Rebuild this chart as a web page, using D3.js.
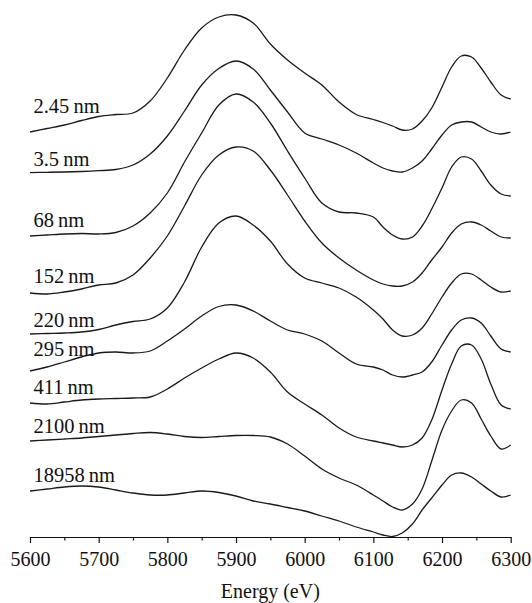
<!DOCTYPE html>
<html>
<head>
<meta charset="utf-8">
<script src="https://d3js.org/d3.v7.min.js"></script>
<style>
  body { margin: 0; background: #fff; }
  text { font-family: "Liberation Serif", "Times New Roman", serif; fill: #111; }
</style>
</head>
<body>
<div id="chart"></div>
<script>

// energy grid (eV), shared by all spectra
var energies = [5600, 5625, 5650, 5675, 5700, 5725, 5750, 5775, 5800, 5825, 5850, 5875, 5900, 5925, 5950,
  5975, 6000, 6025, 6050, 6075, 6100, 6114, 6128, 6142, 6157, 6171, 6185, 6200, 6214, 6228, 6243, 6257,
  6271, 6286, 6300];

// spectra, stacked with an offset (arbitrary units)
var s2_45 = [4.05, 4.085, 4.12, 4.165, 4.205, 4.225, 4.24, 4.36, 4.59, 4.87, 5.09, 5.20, 5.22, 5.14, 4.93,
  4.77, 4.64, 4.52, 4.35, 4.225, 4.175, 4.145, 4.11, 4.07, 4.08, 4.16, 4.29, 4.50, 4.70, 4.81, 4.80, 4.69,
  4.55, 4.42, 4.38];
var s3_5 = [3.643, 3.647, 3.65, 3.655, 3.663, 3.675, 3.72, 3.83, 4.01, 4.26, 4.52, 4.685, 4.76, 4.68, 4.47,
  4.25, 4.04, 3.98, 3.92, 3.84, 3.74, 3.69, 3.66, 3.65, 3.69, 3.76, 3.88, 4.02, 4.12, 4.15, 4.15, 4.10,
  4.05, 4.03, 4.05];
var s68 = [3.01, 3.02, 3.03, 3.035, 3.03, 3.045, 3.11, 3.24, 3.44, 3.75, 4.04, 4.32, 4.43, 4.35, 4.14,
  3.86, 3.59, 3.34, 3.25, 3.24, 3.20, 3.10, 3.02, 2.98, 3.00, 3.11, 3.28, 3.49, 3.70, 3.80, 3.78, 3.66,
  3.52, 3.43, 3.41];
var s152 = [2.44, 2.43, 2.45, 2.48, 2.52, 2.54, 2.62, 2.79, 3.01, 3.31, 3.62, 3.82, 3.90, 3.86, 3.67,
  3.42, 3.16, 2.94, 2.79, 2.67, 2.57, 2.53, 2.51, 2.51, 2.55, 2.64, 2.77, 2.90, 3.04, 3.13, 3.15, 3.12,
  3.06, 3.00, 2.99];
var s220 = [2.03, 2.035, 2.04, 2.05, 2.075, 2.12, 2.155, 2.18, 2.29, 2.55, 2.90, 3.14, 3.21, 3.12, 2.96,
  2.73, 2.59, 2.54, 2.49, 2.40, 2.27, 2.18, 2.07, 2.01, 2.02, 2.09, 2.23, 2.40, 2.54, 2.63, 2.63, 2.57,
  2.50, 2.45, 2.46];
var s295 = [1.66, 1.70, 1.75, 1.80, 1.84, 1.85, 1.84, 1.86, 1.96, 2.08, 2.21, 2.305, 2.32, 2.26, 2.16,
  2.07, 2.03, 1.96, 1.84, 1.73, 1.70, 1.67, 1.62, 1.60, 1.62, 1.65, 1.75, 1.92, 2.07, 2.17, 2.19, 2.14,
  2.01, 1.88, 1.85];
var s411 = [1.34, 1.33, 1.35, 1.37, 1.38, 1.385, 1.39, 1.40, 1.48, 1.59, 1.69, 1.78, 1.84, 1.79, 1.65,
  1.45, 1.33, 1.22, 1.09, 1.00, 0.96, 0.94, 0.92, 0.90, 0.92, 0.99, 1.17, 1.47, 1.73, 1.91, 1.92, 1.78,
  1.53, 1.32, 1.28];
var s2100 = [0.96, 0.97, 0.98, 0.99, 1.005, 1.02, 1.035, 1.045, 1.03, 1.005, 0.995, 1.005, 1.015, 1.015, 1.00,
  0.93, 0.81, 0.68, 0.59, 0.52, 0.42, 0.36, 0.30, 0.27, 0.33, 0.48, 0.76, 1.07, 1.26, 1.37, 1.34, 1.18,
  1.01, 0.88, 0.92];
var s18958 = [0.46, 0.48, 0.50, 0.51, 0.50, 0.47, 0.44, 0.42, 0.42, 0.44, 0.46, 0.445, 0.41, 0.36, 0.33,
  0.295, 0.26, 0.21, 0.16, 0.10, 0.05, 0.02, 0.005, 0.04, 0.13, 0.27, 0.39, 0.52, 0.62, 0.64, 0.60, 0.53,
  0.46, 0.40, 0.42];

var seriesNames = ["2.45\u2009nm", "3.5\u2009nm", "68\u2009nm", "152\u2009nm", "220\u2009nm", "295\u2009nm",
  "411\u2009nm", "2100\u2009nm", "18958\u2009nm"];
var labelLevels = [4.24, 3.71, 3.10, 2.54, 2.10, 1.81, 1.43, 1.04, 0.55];
var labelEnergy = 5605;

var majorTicks = [5600, 5700, 5800, 5900, 6000, 6100, 6200, 6300];
var minorTicks = [5650, 5750, 5850, 5950, 6050, 6150, 6250];

var allSeries = [s2_45, s3_5, s68, s152, s220, s295, s411, s2100, s18958];

// size of the picture
var W = 532, H = 603;
var margin = {top: 7, right: 21.3, bottom: 66, left: 30};

var svg = d3.select("#chart")
  .append("svg")
    .attr("width", W)
    .attr("height", H);

var x = d3.scaleLinear()
  .domain([5600, 6300])
  .range([margin.left, W - margin.right]);

var y = d3.scaleLinear()
  .domain([0, 5.3])
  .range([H - margin.bottom, margin.top]);

// the spectra
var line = d3.line()
  .x(function(d, i) { return x(energies[i]); })
  .y(function(d) { return y(d); })
  .curve(d3.curveCatmullRom.alpha(0.5));

svg.append("g").selectAll("path")
    .data(allSeries)
  .enter().append("path")
    .attr("fill", "none")
    .attr("stroke", "#1a1a1a")
    .attr("stroke-width", 1.3)
    .attr("stroke-linejoin", "round")
    .attr("d", line);

// labels above each spectrum
svg.append("g").selectAll("text")
    .data(seriesNames)
  .enter().append("text")
    .attr("x", x(labelEnergy))
    .attr("y", function(d, i) { return y(labelLevels[i]); })
    .style("font-size", "20.5px")
    .text(function(d) { return d; });

// x axis
var xAxis = svg.append("g")
  .attr("transform", "translate(0," + y(0) + ")")
  .call(d3.axisBottom(x)
    .tickValues(majorTicks)
    .tickFormat(d3.format("d"))
    .tickSize(6)
    .tickSizeOuter(0)
    .tickPadding(9));
xAxis.select(".domain").attr("stroke", "#111").attr("stroke-width", 1.2);
xAxis.selectAll(".tick line").attr("stroke", "#111").attr("stroke-width", 1.2);
xAxis.selectAll(".tick text")
  .style("font-family", "'Liberation Serif', 'Times New Roman', serif")
  .style("font-size", "20px")
  .attr("fill", "#111");

// minor ticks
var xMinor = svg.append("g")
  .attr("transform", "translate(0," + y(0) + ")")
  .call(d3.axisBottom(x).tickValues(minorTicks).tickSize(3.5).tickFormat(""));
xMinor.select(".domain").remove();
xMinor.selectAll(".tick line").attr("stroke", "#111").attr("stroke-width", 1.2);

// axis title
svg.append("text")
  .attr("x", (x(5600) + x(6300)) / 2)
  .attr("y", 598)
  .style("text-anchor", "middle")
  .style("font-size", "20px")
  .text("Energy (eV)");

</script>
</body>
</html>
